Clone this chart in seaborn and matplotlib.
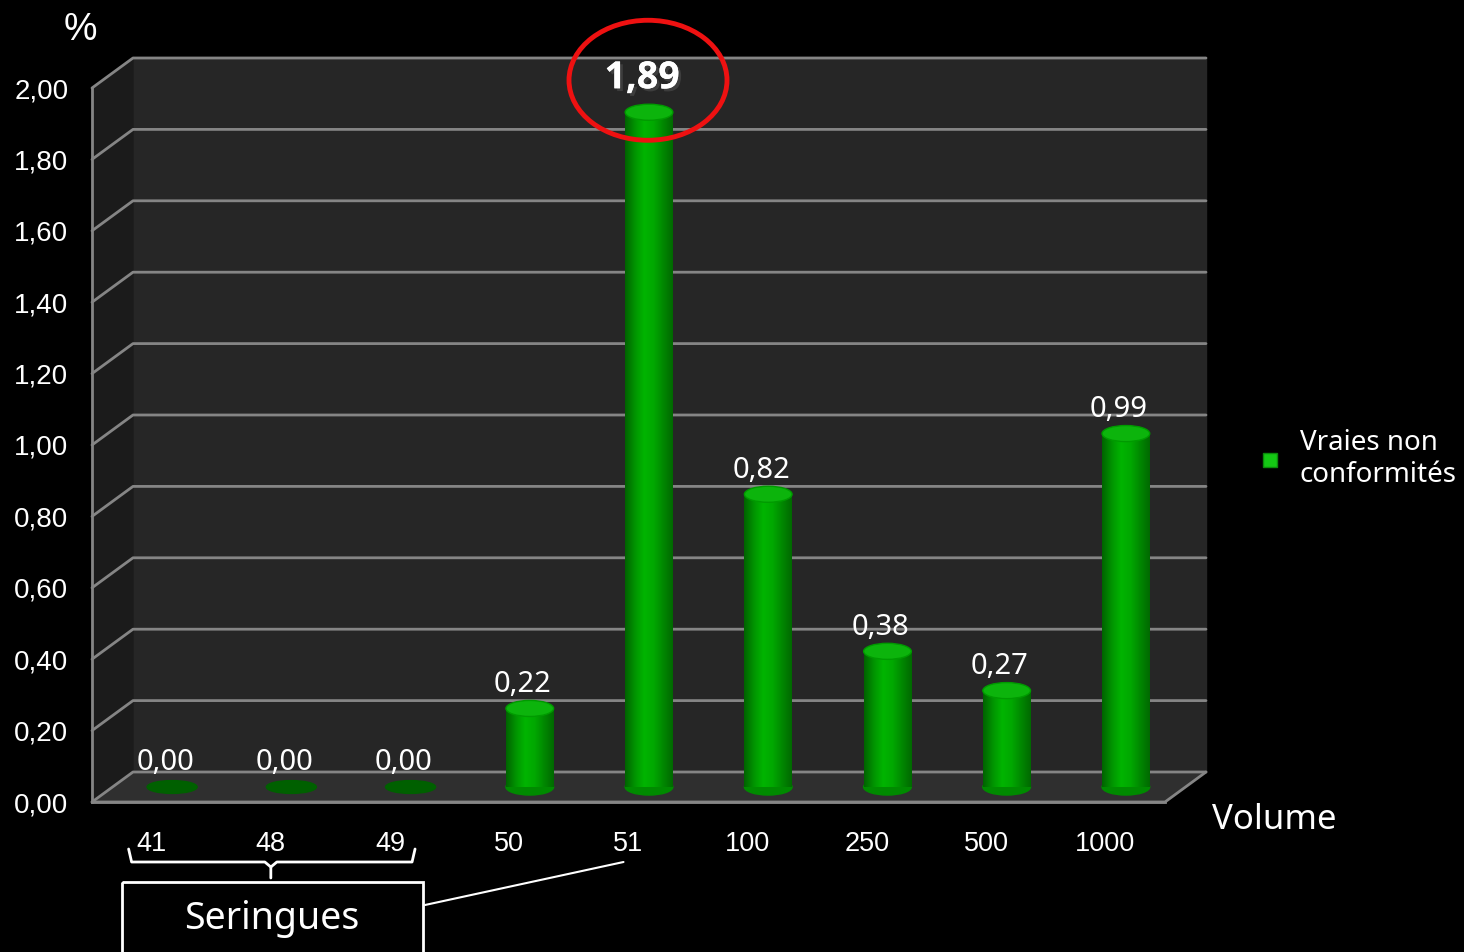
import matplotlib
matplotlib.use("Agg")
import matplotlib.pyplot as plt
import numpy as np
import seaborn as sns
from matplotlib.colors import LinearSegmentedColormap
from matplotlib.lines import Line2D
from matplotlib.patches import Ellipse, Polygon, Rectangle
import matplotlib.patheffects as pe

volumes = ["41", "48", "49", "50", "51", "100", "250", "500", "1000"]
taux = [0.00, 0.00, 0.00, 0.22, 1.89, 0.82, 0.38, 0.27, 0.99]
y_ticks = [0.0, 0.2, 0.4, 0.6, 0.8, 1.0, 1.2, 1.4, 1.6, 1.8, 2.0]
serie = "Vraies non\nconformités"
groupe = "Seringues"

W, H = 1464, 952
DEPTH = (41, 30)  # profondeur du faux 3D, en pixels
GRID = "#858585"
TXT = "Noto Sans"

sns.set_style("dark")
plt.rcParams["font.family"] = ["Liberation Sans", "DejaVu Sans"]

fig = plt.figure(figsize=(W / 100, H / 100), dpi=100, facecolor="black")


def frac(x0, y_top, x1, y_bot):
    return [x0 / W, 1 - y_bot / H, (x1 - x0) / W, (y_bot - y_top) / H]


# fond en pixels (y vers le bas)
bg = fig.add_axes([0, 0, 1, 1], zorder=0)
bg.set_xlim(0, W)
bg.set_ylim(H, 0)
bg.axis("off")
bg.set_facecolor("black")

# axe avant : graduations et étiquettes
ax = fig.add_axes(frac(92, 88, 1165, 802), zorder=1)
ax.set_facecolor("none")
ax.set_xlim(-0.5, len(volumes) - 0.5)
ax.set_ylim(0, 2)

# axe des barres, à mi-profondeur
bax = fig.add_axes(frac(92 + DEPTH[0] / 2, 88 - DEPTH[1] / 2,
                        1165 + DEPTH[0] / 2, 802 - DEPTH[1] / 2), zorder=2)
bax.set_facecolor("none")


def px(axis, x, y):
    X, Y = axis.transData.transform((x, y))
    return X, H - Y


# murs
dx, dy = DEPTH
fl, ft = px(ax, -0.5, 2)
fr, fb = px(ax, len(volumes) - 0.5, 0)
bg.add_patch(Rectangle((fl + dx, ft - dy), fr - fl, fb - ft, color="#262626", zorder=1))
bg.add_patch(Polygon([(fl, ft), (fl + dx, ft - dy), (fl + dx, fb - dy), (fl, fb)],
                     color="#1b1b1b", zorder=1))
bg.add_patch(Polygon([(fl, fb), (fl + dx, fb - dy), (fr + dx, fb - dy), (fr, fb)],
                     color="#2f2f2f", zorder=1))
for v in y_ticks:
    _, yy = px(ax, -0.5, v)
    bg.plot([fl, fl + dx, fr + dx], [yy, yy - dy, yy - dy], color=GRID, lw=2, zorder=2)
bg.plot([fl, fr, fr + dx], [fb, fb, fb - dy], color=GRID, lw=2, zorder=2)

# barres
green = "#00a000"
sns.barplot(x=volumes, y=taux, ax=bax, color=green, width=0.4, saturation=1,
            order=volumes, linewidth=0, edgecolor="none")
cyl = LinearSegmentedColormap.from_list(
    "cyl", ["#006400", "#009400", "#00b400", "#00a800", "#008800", "#006a00"])
grad = np.linspace(0, 1, 64).reshape(1, -1)
eh = 0.045
for p, v in zip(bax.patches, taux):
    x0, w, h = p.get_x(), p.get_width(), p.get_height()
    cx = x0 + w / 2
    if h > 0:
        img = bax.imshow(grad, extent=(x0, x0 + w, 0, h), aspect="auto", cmap=cyl,
                         zorder=3)
        img.set_clip_path(p)
        bax.add_patch(Ellipse((cx, 0), w, eh, color="#008a00", zorder=2.5, clip_on=False))
        bax.add_patch(Ellipse((cx, h), w, eh, color="#0cb40c", ec="#009a00", lw=1, zorder=4))
    else:
        bax.add_patch(Ellipse((cx, 0), w * 1.05, eh * 0.8, color="#006000", zorder=4,
                              clip_on=False))
    big = v == max(taux)
    t = bax.annotate(f"{v:.2f}".replace(".", ","), (cx, h),
                     xytext=(-5, 34 * 0.72 if big else 24 * 0.72),
                     textcoords="offset points", ha="center", va="center", color="white",
                     family=["Open Sans", "DejaVu Sans"] if big else TXT,
                     fontsize=27 if big else 21, fontweight="bold" if big else "normal")
    if big:
        t.set_path_effects([pe.withSimplePatchShadow(offset=(2, -2), alpha=0.6),
                            pe.Normal()])
bax.set_xlim(-0.5, len(volumes) - 0.5)
bax.set_ylim(0, 2)
bax.axis("off")

# graduations
for s in ["top", "right"]:
    ax.spines[s].set_visible(False)
for s in ["left", "bottom"]:
    ax.spines[s].set_color(GRID)
    ax.spines[s].set_linewidth(2)
ax.set_yticks(y_ticks)
ax.set_yticklabels([f"{v:.2f}".replace(".", ",") for v in y_ticks])
ax.set_xticks(range(len(volumes)))
ax.set_xticklabels(volumes)
ax.set_xticks(np.arange(-0.5, len(volumes)), minor=True)
ax.tick_params(axis="y", length=8, width=2, color=GRID, labelcolor="white",
               labelsize=20, pad=9)
ax.tick_params(axis="x", which="major", length=0, labelcolor="white", labelsize=19.5,
               pad=21)
ax.tick_params(axis="x", which="minor", length=9, width=2, color=GRID)
ax.grid(False)

# légende
handle = Line2D([], [], marker="s", ls="", color="#14c814", mec="#0a8a0a", markersize=10)
bax.legend(handles=[handle], labels=[serie], loc="center left",
           bbox_to_anchor=(1256 / W, 1 - 459 / H), bbox_transform=fig.transFigure,
           frameon=False, labelcolor="white", prop={"family": TXT, "size": 20},
           handlelength=1.0, handletextpad=0.58, borderpad=0, borderaxespad=0,
           labelspacing=0.2)

# annotations au premier plan
fg = fig.add_axes([0, 0, 1, 1], zorder=5)
fg.set_xlim(0, W)
fg.set_ylim(H, 0)
fg.axis("off")
fg.set_facecolor("none")

fg.text(80, 30, "%", color="white", fontsize=27, ha="center", va="center")
fg.text(1212, 820, "Volume", color="white", fontsize=25, family=TXT, ha="left", va="center")

imax = taux.index(max(taux))
mx, my = px(bax, imax, max(taux))
fg.add_patch(Ellipse((mx - 1, my - 32), 158, 120, fill=False, ec="#ee1111", lw=3.5))

x41 = px(ax, 0, 0)[0]
x48 = px(ax, 1, 0)[0]
x49 = px(ax, 2, 0)[0]
x51 = px(ax, imax, 0)[0]
yb = 862
fg.plot([x41 - 23, x41 - 20, x48 - 6, x48, x48], [849, yb, yb, yb + 5, 878], color="white", lw=2)
fg.plot([x48, x48 + 6, x49 + 22, x49 + 25], [yb + 5, yb, yb, 849], color="white", lw=2)
fg.add_patch(Rectangle((122, 882), 301, 90, fill=False, ec="white", lw=2))
fg.text(272, 919, groupe, color="white", fontsize=27, family=TXT, ha="center", va="center")
fg.plot([425, x51 - 5], [905, 862], color="white", lw=1.5)

fig.savefig("out.png", dpi=100, facecolor="black")
